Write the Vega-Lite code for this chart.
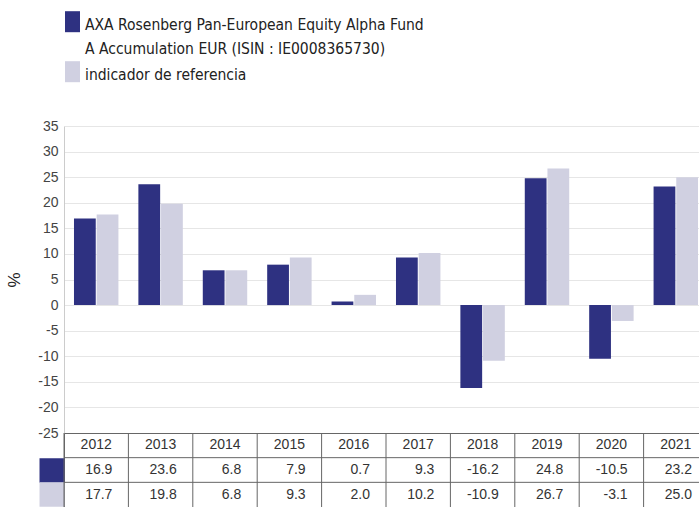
{
  "$schema": "https://vega.github.io/schema/vega-lite/v6.json",
  "padding": {"left": 5, "top": 7, "right": 0, "bottom": 0},
  "config": {
    "font": "Liberation Sans",
    "locale": {"number": {"decimal": ".", "thousands": ",", "grouping": [3], "currency": ["", ""], "minus": "-"}},
    "concat": {"spacing": 0},
    "style": {"guide-label": {"lineHeight": 24}}
  },
  "datasets": {
    "rows": [
      {"year": "2012", "serie": "AXA Rosenberg Pan-European Equity Alpha Fund\nA Accumulation EUR (ISIN : IE0008365730)", "value": 16.9},
      {"year": "2012", "serie": "indicador de referencia", "value": 17.7},
      {"year": "2013", "serie": "AXA Rosenberg Pan-European Equity Alpha Fund\nA Accumulation EUR (ISIN : IE0008365730)", "value": 23.6},
      {"year": "2013", "serie": "indicador de referencia", "value": 19.8},
      {"year": "2014", "serie": "AXA Rosenberg Pan-European Equity Alpha Fund\nA Accumulation EUR (ISIN : IE0008365730)", "value": 6.8},
      {"year": "2014", "serie": "indicador de referencia", "value": 6.8},
      {"year": "2015", "serie": "AXA Rosenberg Pan-European Equity Alpha Fund\nA Accumulation EUR (ISIN : IE0008365730)", "value": 7.9},
      {"year": "2015", "serie": "indicador de referencia", "value": 9.3},
      {"year": "2016", "serie": "AXA Rosenberg Pan-European Equity Alpha Fund\nA Accumulation EUR (ISIN : IE0008365730)", "value": 0.7},
      {"year": "2016", "serie": "indicador de referencia", "value": 2.0},
      {"year": "2017", "serie": "AXA Rosenberg Pan-European Equity Alpha Fund\nA Accumulation EUR (ISIN : IE0008365730)", "value": 9.3},
      {"year": "2017", "serie": "indicador de referencia", "value": 10.2},
      {"year": "2018", "serie": "AXA Rosenberg Pan-European Equity Alpha Fund\nA Accumulation EUR (ISIN : IE0008365730)", "value": -16.2},
      {"year": "2018", "serie": "indicador de referencia", "value": -10.9},
      {"year": "2019", "serie": "AXA Rosenberg Pan-European Equity Alpha Fund\nA Accumulation EUR (ISIN : IE0008365730)", "value": 24.8},
      {"year": "2019", "serie": "indicador de referencia", "value": 26.7},
      {"year": "2020", "serie": "AXA Rosenberg Pan-European Equity Alpha Fund\nA Accumulation EUR (ISIN : IE0008365730)", "value": -10.5},
      {"year": "2020", "serie": "indicador de referencia", "value": -3.1},
      {"year": "2021", "serie": "AXA Rosenberg Pan-European Equity Alpha Fund\nA Accumulation EUR (ISIN : IE0008365730)", "value": 23.2},
      {"year": "2021", "serie": "indicador de referencia", "value": 25.0}
    ]
  },
  "bounds": "flush",
  "spacing": 0,
  "resolve": {"scale": {"x": "independent", "y": "independent", "color": "independent"}},
  "vconcat": [
    {
      "width": 644,
      "height": 307,
      "view": {"stroke": null},
      "data": {"name": "rows"},
      "mark": {"type": "bar"},
      "encoding": {
        "x": {"field": "year", "type": "nominal", "axis": null, "scale": {"paddingInner": 0.31, "paddingOuter": 0.155}},
        "xOffset": {"field": "serie", "type": "nominal", "sort": null, "scale": {"paddingInner": 0.04}},
        "y": {
          "field": "value", "type": "quantitative",
          "scale": {"domain": [-25, 35], "nice": false, "zero": false},
          "axis": {
            "values": [-25, -20, -15, -10, -5, 0, 5, 10, 15, 20, 25, 30, 35],
            "title": "%", "titleFontSize": 17, "titleFontWeight": "normal", "titleColor": "#222", "titlePadding": 14,
            "labelFontSize": 14, "labelColor": "#444", "labelPadding": 6,
            "ticks": false, "domainColor": "#cccccc", "gridColor": "#e6e6e6"
          }
        },
        "color": {
          "field": "serie", "type": "nominal", "sort": null,
          "scale": {"range": ["#2e3181", "#d0d0e1"]},
          "legend": {
            "orient": "none", "legendX": -2, "legendY": -119, "direction": "vertical", "title": null,
            "symbolType": "M-0.714,-0.6H0.714V1.4H-0.714Z", "symbolSize": 441, "symbolStrokeWidth": 0,
            "labelFont": "DejaVu Sans Condensed", "labelFontSize": 15.5, "labelColor": "#222", "labelLimit": 0,
            "labelOffset": 2, "labelBaseline": "top", "rowPadding": 0,
            "labelExpr": "split(datum.label, '\\n')"
          }
        }
      }
    },
    {
      "width": 644,
      "height": 74,
      "view": {"stroke": "#666666", "strokeWidth": 1},
      "data": {"name": "rows"},
      "layer": [
        {
          "transform": [{"aggregate": [], "groupby": ["year"]}],
          "mark": {"type": "rule", "color": "#666666", "strokeWidth": 1},
          "encoding": {"x": {"field": "year", "type": "nominal", "bandPosition": 0, "axis": null, "scale": {"paddingInner": 0, "paddingOuter": 0}}}
        },
        {
          "transform": [{"aggregate": [], "groupby": ["serie"]}],
          "mark": {"type": "rule", "color": "#666666", "strokeWidth": 1},
          "encoding": {
            "y": {
              "field": "serie", "type": "nominal", "bandPosition": 0,
              "scale": {"domain": ["year", "AXA Rosenberg Pan-European Equity Alpha Fund\nA Accumulation EUR (ISIN : IE0008365730)", "indicador de referencia"], "paddingInner": 0, "paddingOuter": 0},
              "axis": {
                "title": null, "labels": false, "domain": false, "grid": false,
                "tickSize": 25, "tickWidth": 24.5,
                "tickColor": {"condition": {"test": "indexof(datum.value, 'AXA') === 0", "value": "#2e3181"}, "value": "#d0d0e1"},
                "tickOpacity": {"condition": {"test": "datum.value === 'year'", "value": 0}, "value": 1}
              }
            }
          }
        },
        {
          "transform": [{"aggregate": [], "groupby": ["year"]}],
          "mark": {"type": "text", "fontSize": 14, "color": "#333333", "align": "center"},
          "encoding": {
            "x": {"field": "year", "type": "nominal", "axis": null},
            "y": {"datum": "year", "type": "nominal"},
            "text": {"field": "year", "type": "nominal"}
          }
        },
        {
          "mark": {"type": "text", "fontSize": 14, "color": "#333333", "align": "right", "dx": -16},
          "encoding": {
            "x": {"field": "year", "type": "nominal", "bandPosition": 1, "axis": null},
            "y": {"field": "serie", "type": "nominal"},
            "text": {"field": "value", "type": "quantitative", "format": ".1f"}
          }
        }
      ]
    }
  ]
}
